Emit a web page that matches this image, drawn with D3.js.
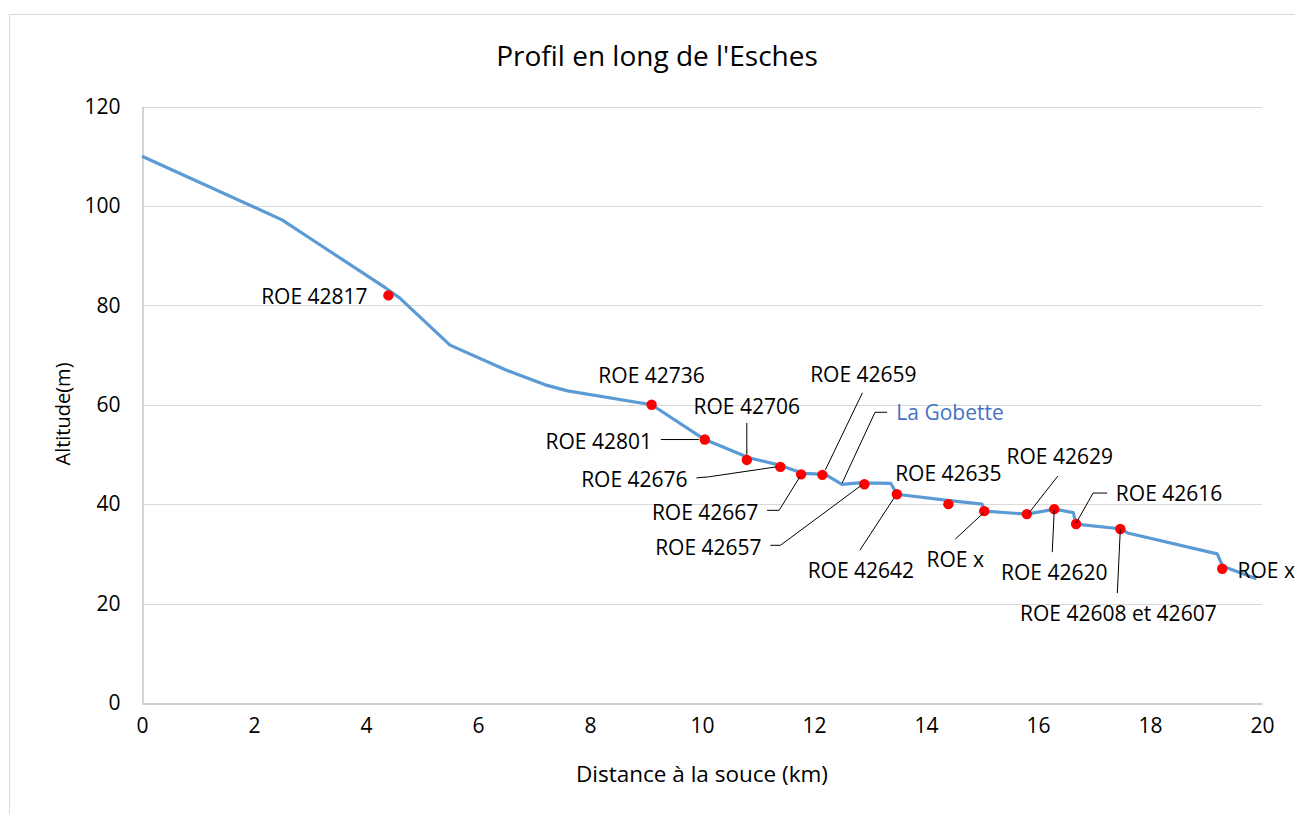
<!DOCTYPE html>
<html>
<head>
<meta charset="utf-8">
<script src="https://cdn.jsdelivr.net/npm/d3@7"></script>
<style>
  html, body { margin: 0; padding: 0; background: #fff; }
  svg { display: block; font-family: "Open Sans", sans-serif; }
</style>
</head>
<body>
<svg id="chart" width="1295" height="814"></svg>
<script>
// Long profile of the Esches: distance from source (km) vs altitude (m)
const profileKm  = [0, 2.5, 3.0, 4.35, 4.6, 5.5, 6.5, 7.2, 7.6, 9.1, 10.05, 10.85, 11.4, 11.8, 12.2, 12.5, 12.8, 13.37, 13.48, 14.35, 15.0, 15.05, 15.8, 16.3, 16.63, 16.68, 17.5, 17.6, 19.2, 19.3, 19.9];
const profileAlt = [110, 97.2, 93.5, 83.5, 81.5, 72, 67, 64, 62.8, 60, 53, 49.3, 47.8, 46.2, 46, 44, 44.3, 44.2, 42, 40.8, 40, 38.6, 38, 39, 38.3, 36, 35, 34.2, 30, 27.5, 25];

// Weirs / obstacles (ROE) along the river
const roeNames = ["ROE 42817", "ROE 42736", "ROE 42801", "ROE 42706", "ROE 42676", "ROE 42667", "ROE 42659", "ROE 42657", "ROE 42642", "ROE 42635", "ROE x", "ROE 42629", "ROE 42620", "ROE 42616", "ROE 42608 et 42607", "ROE x"];
const roeKm  = [4.4, 9.1, 10.05, 10.8, 11.4, 11.77, 12.15, 12.9, 13.48, 14.4, 15.04, 15.8, 16.29, 16.68, 17.47, 19.29];
const roeAlt = [82, 60, 53, 48.9, 47.5, 46.0, 45.9, 44.0, 42.0, 40.0, 38.6, 38.0, 39.0, 36.0, 35.0, 27.0];

// Confluence marker
const confluenceName = "La Gobette";
const confluenceKm = 12.5;
const confluenceAlt = 44;

const xTicks = [0, 2, 4, 6, 8, 10, 12, 14, 16, 18, 20];
const yTicks = [0, 20, 40, 60, 80, 100, 120];

const titleText = "Profil en long de l'Esches";
const xTitle = "Distance à la souce (km)";
const yTitle = "Altitude(m)";

const svg = d3.select("#chart");
const plot = { left: 142, right: 1262, top: 106.5, bottom: 703 };

const x = d3.scaleLinear().domain([0, 20]).range([plot.left, plot.right]);
const y = d3.scaleLinear().domain([0, 120]).range([plot.bottom, plot.top]);

const labelSize = 21;

// chart frame
svg.append("rect")
  .attr("x", 9.5).attr("y", 14.5)
  .attr("width", 1400).attr("height", 900)
  .attr("fill", "#fff").attr("stroke", "#d9d9d9").attr("stroke-width", 1);

// horizontal gridlines
svg.append("g")
  .selectAll("line")
  .data(yTicks.filter(d => d > 0))
  .join("line")
  .attr("x1", plot.left).attr("x2", plot.right)
  .attr("y1", d => Math.round(y(d)) + 0.5).attr("y2", d => Math.round(y(d)) + 0.5)
  .attr("stroke", "#d9d9d9").attr("stroke-width", 1);

// axes
const xAxis = svg.append("g")
  .attr("transform", `translate(0,${Math.round(plot.bottom) + 0.5})`)
  .call(d3.axisBottom(x).tickValues(xTicks).tickSize(0).tickPadding(15).tickFormat(d3.format("d")));
const yAxis = svg.append("g")
  .attr("transform", `translate(${plot.left + 0.5},0)`)
  .call(d3.axisLeft(y).tickValues(yTicks).tickSize(0).tickPadding(22).tickFormat(d3.format("d")));

[xAxis, yAxis].forEach(g => {
  g.select(".domain").attr("stroke", "#bfbfbf").attr("stroke-width", 1.3);
  g.selectAll("text").attr("font-family", "Open Sans").attr("font-size", 21).attr("fill", "#000");
});

// profile line
const line = d3.line().x((d, i) => x(profileKm[i])).y((d, i) => y(profileAlt[i]));
svg.append("path")
  .datum(profileAlt)
  .attr("d", line)
  .attr("fill", "none")
  .attr("stroke", "#5b9bd5")
  .attr("stroke-width", 3.2)
  .attr("stroke-linejoin", "round");

// ROE points
svg.append("g")
  .selectAll("circle")
  .data(roeKm)
  .join("circle")
  .attr("cx", (d, i) => x(roeKm[i]))
  .attr("cy", (d, i) => y(roeAlt[i]))
  .attr("r", 5.2)
  .attr("fill", "#ff0000");

// label layout: text offset (dx, dy) from the point, and optional leader path
// leader points given as offsets from the point as well
const labelLayout = [
  { dx: -74, dy: 1 },
  { dx: 0,   dy: -30 },
  { dx: -106, dy: 1,  leader: [[-44, 0], [-6, 0]] },
  { dx: 0,   dy: -54, leader: [[0, -37], [0, -5]] },
  { dx: -146, dy: 12, leader: [[-84, 11], [-72, 10], [-4, 0]] },
  { dx: -96, dy: 38,  leader: [[-34, 36], [-22, 36], [-1, 2]] },
  { dx: 41,  dy: -101, leader: [[40, -82], [3, -5]] },
  { dx: -156, dy: 63, leader: [[-94, 61], [-84, 61], [-3, 1]] },
  { dx: -36, dy: 76,  leader: [[-37, 56], [-3, 4]] },
  { dx: 0,   dy: -31 },
  { dx: -29, dy: 48,  leader: [[-29, 28], [-1, 2]] },
  { dx: 33,  dy: -58, leader: [[31, -38], [2, -1]] },
  { dx: 0,   dy: 63,  leader: [[-2, 43], [0, 1]] },
  { dx: 93,  dy: -31, leader: [[31, -31], [17, -31], [0, -1]] },
  { dx: -2,  dy: 84,  leader: [[-3, 64], [0, 0]] },
  { dx: 44,  dy: 1 }
];

const labels = svg.append("g");
roeNames.forEach((name, i) => {
  const px = x(roeKm[i]), py = y(roeAlt[i]);
  const L = labelLayout[i];
  if (L.leader) {
    labels.append("path")
      .attr("d", d3.line()(L.leader.map(p => [px + p[0], py + p[1]])))
      .attr("fill", "none").attr("stroke", "#000").attr("stroke-width", 1);
  }
  labels.append("text")
    .attr("x", px + L.dx).attr("y", py + L.dy)
    .attr("text-anchor", "middle")
    .attr("dominant-baseline", "central")
    .attr("font-size", labelSize)
    .attr("fill", "#000")
    .text(name);
});

// confluence annotation
{
  const px = x(confluenceKm), py = y(confluenceAlt);
  labels.append("path")
    .attr("d", d3.line()([[px + 45, py - 72], [px + 33, py - 72], [px, py - 1]]))
    .attr("fill", "none").attr("stroke", "#000").attr("stroke-width", 1);
  labels.append("text")
    .attr("x", px + 108).attr("y", py - 72)
    .attr("text-anchor", "middle")
    .attr("dominant-baseline", "central")
    .attr("font-size", labelSize)
    .attr("fill", "#4472c4")
    .text(confluenceName);
}

// titles
svg.append("text")
  .attr("x", 657).attr("y", 55)
  .attr("text-anchor", "middle").attr("dominant-baseline", "central")
  .attr("font-size", 28).attr("fill", "#000")
  .text(titleText);

svg.append("text")
  .attr("x", 702).attr("y", 773)
  .attr("text-anchor", "middle").attr("dominant-baseline", "central")
  .attr("font-size", 22.5).attr("fill", "#000")
  .text(xTitle);

svg.append("text")
  .attr("transform", "translate(62,414) rotate(-90)")
  .attr("text-anchor", "middle").attr("dominant-baseline", "central")
  .attr("font-size", 20).attr("fill", "#000")
  .text(yTitle);
</script>
</body>
</html>
